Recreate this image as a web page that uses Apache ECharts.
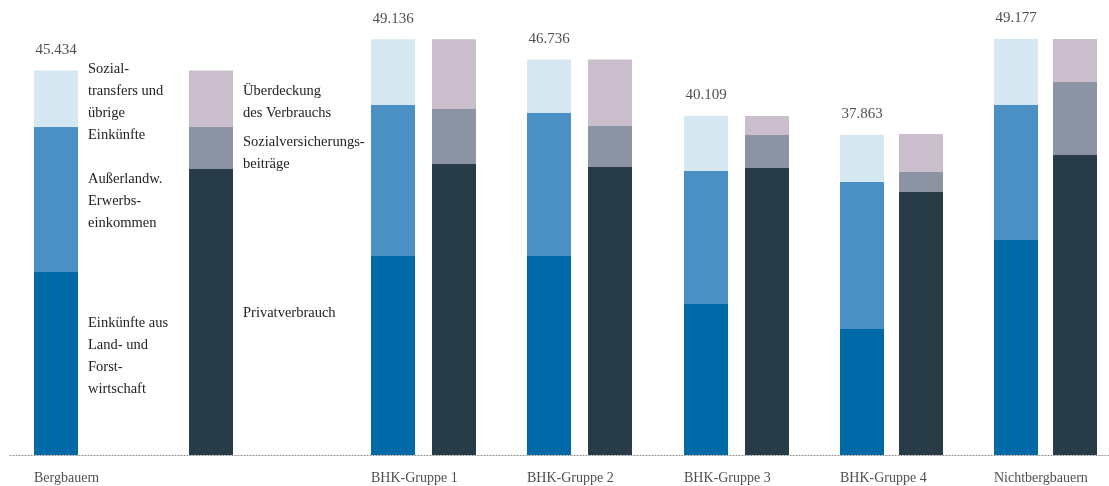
<!DOCTYPE html>
<html>
<head>
<meta charset="utf-8">
<script src="https://cdn.jsdelivr.net/npm/echarts@6/dist/echarts.min.js"></script>
<style>
  html, body { margin: 0; padding: 0; background: #fff; }
  #chart { width: 1109px; height: 486px; }
</style>
</head>
<body>
<div id="chart"></div>
<script>
// Gruppen
const categories = ['Bergbauern', 'BHK-Gruppe 1', 'BHK-Gruppe 2', 'BHK-Gruppe 3', 'BHK-Gruppe 4', 'Nichtbergbauern'];
// Gesamteinkommen (Summe der Einkommensteile)
const incomeTotal = [45434, 49136, 46736, 40109, 37863, 49177];
// Einkommen
const einkuenfteLuF = [21630, 23520, 23520, 17848, 14893, 25413];
const ausserlandw = [17140, 17848, 16903, 15721, 17375, 15957];
const sozialtransfers = [6664, 7768, 6313, 6540, 5595, 7807];
// Verwendung
const privatverbrauch = [33805, 34396, 34042, 33923, 31087, 35460];
const svBeitraege = [4964, 6501, 4846, 3901, 2364, 8629];
const ueberdeckung = [6665, 8239, 7848, 2246, 4492, 5088];

// Lage der Säulen auf der x-Achse (Layout, nur Positionen)
const incomeX = [56, 393, 549, 706, 862, 1016];
const expenseX = [211, 454, 610, 767, 921, 1075];
const BAR_W = 44;
const labelX = incomeX.map(x => x - BAR_W / 2);

const FONT = 'Liberation Serif';
const TEXT = '#222222';

const legendText = {
  fontFamily: FONT,
  fontSize: 14.5,
  lineHeight: 22,
  color: TEXT
};

// Säulen-Serie; erste Säule (Bergbauern) bekommt die Beschriftung rechts
function barSeries(name, stack, xs, values, color, labelText, labelOffset) {
  return {
    name: name,
    type: 'bar',
    stack: stack,
    barWidth: BAR_W,
    barGap: '-100%',
    silent: true,
    itemStyle: { color: color },
    data: values.map((v, i) => {
      if (i === 0) {
        return {
          value: [xs[i], v],
          label: Object.assign({
            show: true,
            position: 'right',
            distance: 10,
            align: 'left',
            offset: labelOffset || [0, 0],
            formatter: labelText
          }, legendText)
        };
      }
      return [xs[i], v];
    })
  };
}

const chart = echarts.init(document.getElementById('chart'), null, { renderer: 'canvas' });

// x-Achse als 'time', damit nur die y-Werte gestapelt werden.
// ECharts erweitert die Achse um eine halbe Säulenbreite auf jeder Seite.
const option = {
  animation: false,
  backgroundColor: '#ffffff',
  grid: {
    left: 10,
    right: 0,
    top: 0,
    bottom: 31,
    containLabel: false,
    outerBoundsMode: 'none'
  },
  xAxis: {
    type: 'time',
    min: 10 + BAR_W / 2,
    max: 1109 - BAR_W / 2,
    splitLine: { show: false },
    axisTick: { show: false },
    axisLabel: { show: false },
    axisLine: {
      show: true,
      lineStyle: { color: '#8a8a8a', width: 1, type: [1, 2] }
    }
  },
  yAxis: {
    type: 'value',
    min: 0,
    max: 53780,
    show: false
  },
  series: [
    barSeries('Einkünfte aus Land- und Forstwirtschaft', 'einkommen', incomeX, einkuenfteLuF, '#006aa8',
      'Einkünfte aus\nLand- und\nForst-\nwirtschaft', [0, -7]),
    barSeries('Außerlandw. Erwerbseinkommen', 'einkommen', incomeX, ausserlandw, '#4a90c4',
      'Außerlandw.\nErwerbs-\neinkommen', [0, 2]),
    barSeries('Sozialtransfers und übrige Einkünfte', 'einkommen', incomeX, sozialtransfers, '#d5e7f1',
      'Sozial-\ntransfers und\nübrige\nEinkünfte', [0, 3]),
    barSeries('Privatverbrauch', 'verwendung', expenseX, privatverbrauch, '#273c47',
      'Privatverbrauch', [0, 1]),
    barSeries('Sozialversicherungsbeiträge', 'verwendung', expenseX, svBeitraege, '#8c93a3',
      'Sozialversicherungs-\nbeiträge', [0, 5]),
    barSeries('Überdeckung des Verbrauchs', 'verwendung', expenseX, ueberdeckung, '#cabecc',
      'Überdeckung\ndes Verbrauchs', [0, 3]),
    {
      name: 'Summe',
      type: 'scatter',
      symbolSize: 0,
      silent: true,
      clip: false,
      data: incomeX.map((x, i) => [x, incomeTotal[i]]),
      label: {
        show: true,
        position: 'top',
        distance: 13,
        fontFamily: FONT,
        fontSize: 15,
        color: TEXT,
        formatter: function (p) {
          return (incomeTotal[p.dataIndex] / 1000).toFixed(3);
        }
      }
    },
    {
      name: 'Gruppen',
      type: 'scatter',
      symbolSize: 0,
      silent: true,
      clip: false,
      data: labelX.map(x => [x, 0]),
      label: {
        show: true,
        position: 'bottom',
        distance: 16,
        align: 'left',
        fontFamily: FONT,
        fontSize: 14,
        color: TEXT,
        formatter: function (p) {
          return categories[p.dataIndex];
        }
      }
    }
  ]
};

chart.setOption(option);
</script>
</body>
</html>
